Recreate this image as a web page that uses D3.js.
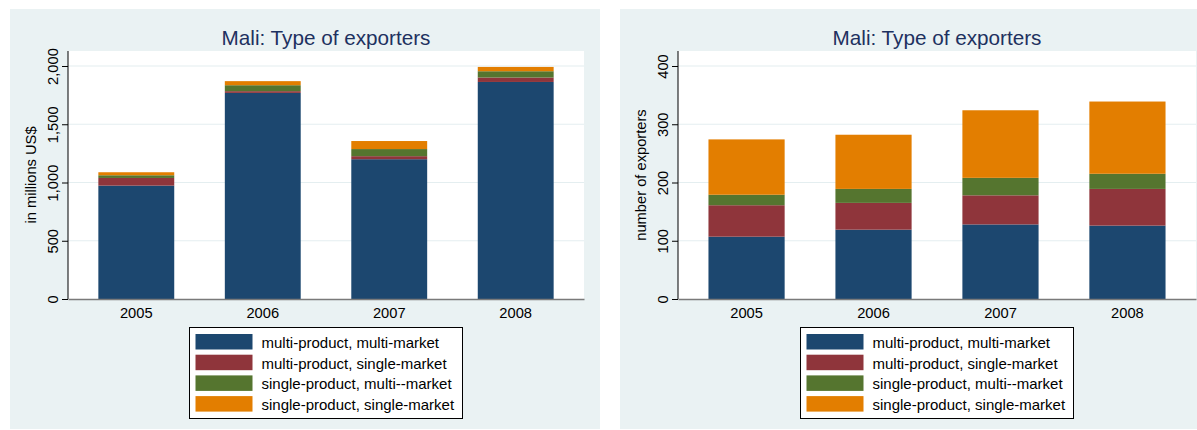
<!DOCTYPE html>
<html>
<head>
<meta charset="utf-8">
<script src="https://cdn.jsdelivr.net/npm/d3@7"></script>
<style>
  body { margin: 0; background: #fff; }
  svg { display: block; font-family: 'Liberation Sans', Arial, sans-serif; }
</style>
</head>
<body>
<div id="chart"></div>
<script>
// Data
const years = ['2005', '2006', '2007', '2008'];
const seriesNames = [
  'multi-product, multi-market',
  'multi-product, single-market',
  'single-product, multi--market',
  'single-product, single-market'
];
const seriesColors = ['#1c476f', '#8f353b', '#55752f', '#e37e00'];

// left panel: value in millions US$
const valueMultiMulti = [973, 1769, 1200, 1863];
const valueMultiSingle = [66, 15, 26, 38];
const valueSingleMulti = [23, 51, 61, 54];
const valueSingleSingle = [26, 35, 69, 37];
const valueTicks = [0, 500, 1000, 1500, 2000];

// right panel: number of exporters
const countMultiMulti = [107, 119, 128, 126];
const countMultiSingle = [54, 46, 50, 63];
const countSingleMulti = [18, 24, 30, 26];
const countSingleSingle = [95, 93, 116, 124];
const countTicks = [0, 100, 200, 300, 400];

const title = 'Mali: Type of exporters';

const svg = d3.select('#chart').append('svg')
  .attr('width', 1197)
  .attr('height', 430);

const panels = [
  {
    bg: { x: 10, y: 9, w: 590, h: 420 },
    plot: { left: 68, right: 584, top: 51, bottom: 299 },
    series: [valueMultiMulti, valueMultiSingle, valueSingleMulti, valueSingleSingle],
    ticks: valueTicks,
    format: d3.format(','),
    yLabel: 'in millions US$'
  },
  {
    bg: { x: 620, y: 9, w: 600, h: 420 },
    plot: { left: 678, right: 1196, top: 51, bottom: 299 },
    series: [countMultiMulti, countMultiSingle, countSingleMulti, countSingleSingle],
    ticks: countTicks,
    format: d3.format('d'),
    yLabel: 'number of exporters'
  }
];

panels.forEach(p => drawPanel(svg, p));

function drawPanel (svg, p) {
  const g = svg.append('g');
  const plot = p.plot;
  const topTickY = 66;

  g.append('rect')
    .attr('x', p.bg.x).attr('y', p.bg.y)
    .attr('width', p.bg.w).attr('height', p.bg.h)
    .attr('fill', '#eaf2f3');

  g.append('rect')
    .attr('x', plot.left).attr('y', plot.top)
    .attr('width', plot.right - plot.left).attr('height', plot.bottom - plot.top)
    .attr('fill', '#ffffff');

  // scales
  const xScale = d3.scaleBand()
    .domain(years)
    .range([plot.left, plot.right])
    .paddingInner(0.4)
    .paddingOuter(0.24);

  const yScale = d3.scaleLinear()
    .domain([0, d3.max(p.ticks)])
    .range([plot.bottom, topTickY]);

  // grid
  g.append('g').selectAll('line')
    .data(p.ticks.slice(1))
    .enter().append('line')
    .attr('x1', plot.left).attr('x2', plot.right)
    .attr('y1', d => yScale(d)).attr('y2', d => yScale(d))
    .attr('stroke', '#e4eef0')
    .attr('stroke-width', 1.2);

  // stacked bars
  const rows = years.map((y, i) => {
    const row = { year: y };
    p.series.forEach((s, k) => { row['s' + k] = s[i]; });
    return row;
  });
  const stack = d3.stack().keys(p.series.map((s, k) => 's' + k));
  const layers = stack(rows);

  g.append('g').selectAll('g')
    .data(layers)
    .enter().append('g')
    .attr('fill', (d, k) => seriesColors[k])
    .selectAll('rect')
    .data(d => d)
    .enter().append('rect')
    .attr('x', d => xScale(d.data.year))
    .attr('width', xScale.bandwidth())
    .attr('y', d => yScale(d[1]))
    .attr('height', d => yScale(d[0]) - yScale(d[1]));

  // y axis
  const yAxis = g.append('g')
    .attr('transform', `translate(${plot.left},0)`)
    .call(d3.axisLeft(yScale).tickValues(p.ticks).tickFormat(p.format).tickSize(6).tickSizeOuter(0));
  yAxis.select('.domain').remove();
  yAxis.selectAll('line').attr('stroke', '#000');
  yAxis.selectAll('text')
    .attr('transform', 'rotate(-90)')
    .attr('text-anchor', 'middle')
    .attr('x', 0)
    .attr('y', -10)
    .attr('dy', 0)
    .attr('fill', '#000')
    .style('font-size', '14.7px')
    .style('font-family', "'Liberation Sans', Arial, sans-serif");
  g.append('line')
    .attr('x1', plot.left).attr('x2', plot.left)
    .attr('y1', plot.top).attr('y2', plot.bottom)
    .attr('stroke', '#000').attr('stroke-width', 1);

  // x axis
  const xAxis = g.append('g')
    .attr('transform', `translate(0,${plot.bottom})`)
    .call(d3.axisBottom(xScale).tickSize(0).tickPadding(9).tickSizeOuter(0));
  xAxis.select('.domain').attr('stroke', '#7a7a7a').attr('stroke-width', 1.5);
  xAxis.selectAll('text')
    .attr('fill', '#000')
    .style('font-size', '14.7px')
    .style('font-family', "'Liberation Sans', Arial, sans-serif");

  // titles
  const cx = (plot.left + plot.right) / 2;
  g.append('text')
    .text(title)
    .attr('x', cx).attr('y', 45)
    .attr('text-anchor', 'middle')
    .attr('fill', '#1e3160')
    .attr('font-size', 20.7);

  g.append('text')
    .text(p.yLabel)
    .attr('transform', `translate(${plot.left - 32},${(plot.top + plot.bottom) / 2}) rotate(-90)`)
    .attr('text-anchor', 'middle')
    .attr('fill', '#000')
    .attr('font-size', 14.7);

  // legend
  const legW = 273, legH = 91, rowH = 20.7;
  const lx = cx - legW / 2, ly = 327.5;
  const legend = g.append('g').attr('transform', `translate(${lx},${ly})`);
  legend.append('rect')
    .attr('width', legW).attr('height', legH)
    .attr('fill', '#fff').attr('stroke', '#000').attr('stroke-width', 1);
  const items = legend.selectAll('g.item')
    .data(seriesNames)
    .enter().append('g')
    .attr('class', 'item')
    .attr('transform', (d, i) => `translate(6,${6.5 + i * rowH})`);
  items.append('rect')
    .attr('width', 57).attr('height', 15.5)
    .attr('fill', (d, i) => seriesColors[i]);
  items.append('text')
    .text(d => d)
    .attr('x', 66).attr('y', 14)
    .attr('fill', '#000')
    .attr('font-size', 15);
}
</script>
</body>
</html>
